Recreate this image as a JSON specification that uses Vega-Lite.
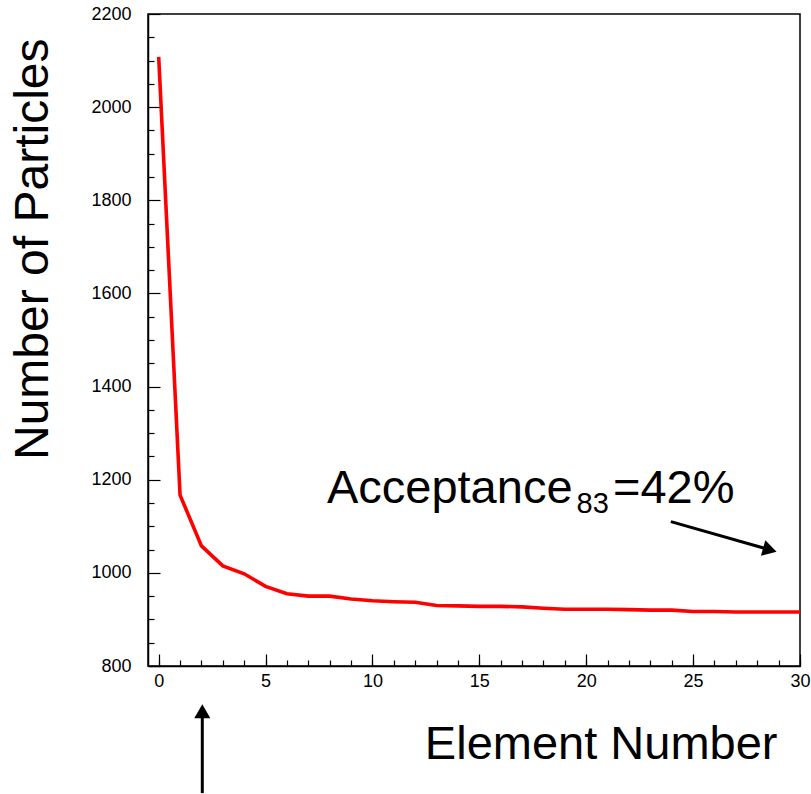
{
  "$schema": "https://vega.github.io/schema/vega-lite/v6.json",
  "width": 652,
  "height": 652,
  "autosize": {"type": "none"},
  "padding": {"left": 148, "top": 14, "right": 11, "bottom": 128},
  "background": "white",
  "config": {
    "view": {"stroke": "black", "strokeWidth": 1.5},
    "font": "Liberation Sans"
  },
  "resolve": {"axis": {"x": "independent", "y": "independent"}},
  "datasets": {
    "curve": [
      {"element": 0, "particles": 2108},
      {"element": 1, "particles": 1167},
      {"element": 2, "particles": 1058},
      {"element": 3, "particles": 1015},
      {"element": 4, "particles": 998},
      {"element": 5, "particles": 971},
      {"element": 6, "particles": 955},
      {"element": 7, "particles": 950},
      {"element": 8, "particles": 950},
      {"element": 9, "particles": 944},
      {"element": 10, "particles": 940},
      {"element": 11, "particles": 938},
      {"element": 12, "particles": 937},
      {"element": 13, "particles": 930},
      {"element": 14, "particles": 929},
      {"element": 15, "particles": 928},
      {"element": 16, "particles": 928},
      {"element": 17, "particles": 927},
      {"element": 18, "particles": 924},
      {"element": 19, "particles": 922},
      {"element": 20, "particles": 922},
      {"element": 21, "particles": 922},
      {"element": 22, "particles": 921},
      {"element": 23, "particles": 920},
      {"element": 24, "particles": 920},
      {"element": 25, "particles": 917},
      {"element": 26, "particles": 917},
      {"element": 27, "particles": 916},
      {"element": 28, "particles": 916},
      {"element": 29, "particles": 916},
      {"element": 30, "particles": 916}
    ],
    "arrows": [
      {"name": "acceptance", "x1": 23.96, "y1": 1110, "x2": 28.59, "y2": 1049.5},
      {"name": "element", "x1": 2.04, "y1": 527, "x2": 2.04, "y2": 703}
    ],
    "heads": [
      {"name": "acceptance", "x": 28.59, "y": 1049.5, "angle": 15.8},
      {"name": "element", "x": 2.04, "y": 703, "angle": -90}
    ],
    "bigtext": [
      {"x": 7.87, "y": 1150, "label": "Acceptance"},
      {"x": 21.25, "y": 1150, "label": "=42%"}
    ],
    "subtext": [
      {"x": 19.55, "y": 1128.5, "label": "83"}
    ]
  },
  "layer": [
    {
      "data": {"name": "curve"},
      "mark": {"type": "line", "color": "#ff0000", "strokeWidth": 3.6, "clip": true},
      "encoding": {
        "x": {
          "field": "element",
          "type": "quantitative",
          "scale": {"domain": [-0.5, 30], "nice": false, "zero": false},
          "axis": {
            "orient": "bottom",
            "values": [0, 5, 10, 15, 20, 25, 30],
            "tickSize": -12,
            "tickColor": "black",
            "tickWidth": 1.2,
            "domainColor": "black",
            "domainWidth": 1.5,
            "grid": false,
            "labelFont": "Liberation Sans",
            "labelFontSize": 18,
            "labelColor": "black",
            "labelPadding": 18,
            "labelOverlap": false,
            "labelFlush": false,
            "labelBound": false,
            "title": "Element Number",
            "titleFont": "Liberation Sans",
            "titleFontSize": 47,
            "titleFontWeight": "normal",
            "titleColor": "black",
            "titleX": 629,
            "titleY": 92,
            "titleAlign": "right",
            "titleBaseline": "alphabetic"
          }
        },
        "y": {
          "field": "particles",
          "type": "quantitative",
          "scale": {"domain": [800, 2200], "nice": false, "zero": false},
          "axis": {
            "orient": "left",
            "values": [800, 1000, 1200, 1400, 1600, 1800, 2000, 2200],
            "format": "d",
            "tickSize": -12,
            "tickColor": "black",
            "tickWidth": 1.2,
            "domainColor": "black",
            "domainWidth": 1.5,
            "grid": false,
            "labelFont": "Liberation Sans",
            "labelFontSize": 18,
            "labelColor": "black",
            "labelPadding": 29,
            "labelOverlap": false,
            "labelFlush": false,
            "labelBound": false,
            "title": "Number of Particles",
            "titleFont": "Liberation Sans",
            "titleFontSize": 48,
            "titleFontWeight": "normal",
            "titleColor": "black",
            "titleAngle": -90,
            "titleX": -101,
            "titleY": 24,
            "titleAlign": "right",
            "titleBaseline": "alphabetic"
          }
        }
      }
    },
    {
      "data": {"name": "curve"},
      "mark": {"type": "line", "opacity": 0, "clip": true},
      "encoding": {
        "x": {
          "field": "element",
          "type": "quantitative",
          "axis": {
            "orient": "bottom",
            "values": [0,1,2,3,4,5,6,7,8,9,10,11,12,13,14,15,16,17,18,19,20,21,22,23,24,25,26,27,28,29,30],
            "tickSize": -6,
            "tickColor": "black",
            "tickWidth": 1.2,
            "domain": false,
            "labels": false,
            "grid": false,
            "title": null
          }
        },
        "y": {
          "field": "particles",
          "type": "quantitative",
          "axis": {
            "orient": "left",
            "values": [850,900,950,1050,1100,1150,1250,1300,1350,1450,1500,1550,1650,1700,1750,1850,1900,1950,2050,2100,2150],
            "tickSize": -6,
            "tickColor": "black",
            "tickWidth": 1.2,
            "domain": false,
            "labels": false,
            "grid": false,
            "title": null
          }
        }
      }
    },
    {
      "data": {"name": "arrows"},
      "mark": {"type": "rule", "color": "black", "strokeWidth": 3},
      "encoding": {
        "x": {"field": "x1", "type": "quantitative", "axis": null},
        "y": {"field": "y1", "type": "quantitative", "axis": null},
        "x2": {"field": "x2"},
        "y2": {"field": "y2"}
      }
    },
    {
      "data": {"name": "heads"},
      "mark": {"type": "point", "shape": "triangle-right", "filled": true, "color": "black", "opacity": 1, "size": 260},
      "encoding": {
        "x": {"field": "x", "type": "quantitative", "axis": null},
        "y": {"field": "y", "type": "quantitative", "axis": null},
        "angle": {"field": "angle", "type": "quantitative", "scale": null}
      }
    },
    {
      "data": {"name": "bigtext"},
      "mark": {"type": "text", "font": "Liberation Sans", "fontSize": 47, "align": "left", "baseline": "alphabetic", "color": "black"},
      "encoding": {
        "x": {"field": "x", "type": "quantitative", "axis": null},
        "y": {"field": "y", "type": "quantitative", "axis": null},
        "text": {"field": "label"}
      }
    },
    {
      "data": {"name": "subtext"},
      "mark": {"type": "text", "font": "Liberation Sans", "fontSize": 29, "align": "left", "baseline": "alphabetic", "color": "black"},
      "encoding": {
        "x": {"field": "x", "type": "quantitative", "axis": null},
        "y": {"field": "y", "type": "quantitative", "axis": null},
        "text": {"field": "label"}
      }
    }
  ]
}
